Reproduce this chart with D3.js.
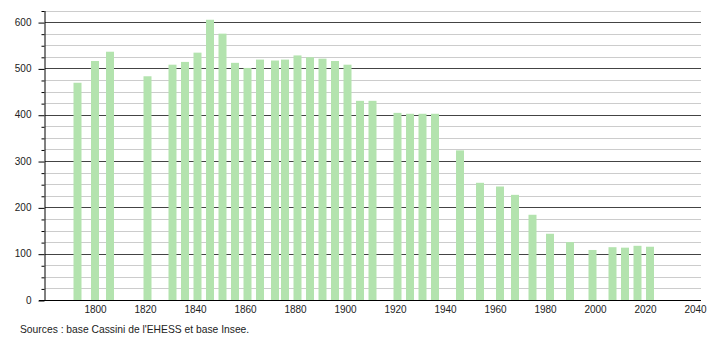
<!DOCTYPE html>
<html>
<head>
<meta charset="utf-8">
<script src="https://cdn.jsdelivr.net/npm/d3@7"></script>
<style>
  body { margin: 0; background: #fff; }
  svg text { font-family: "Liberation Sans", Arial, sans-serif; font-size: 10px; fill: #222; }
</style>
</head>
<body>
<div id="chart"></div>
<script>
// census years and population
const years = [1793, 1800, 1806, 1821, 1831, 1836, 1841, 1846, 1851, 1856,
    1861, 1866, 1872, 1876, 1881, 1886, 1891, 1896, 1901, 1906,
    1911, 1921, 1926, 1931, 1936, 1946, 1954, 1962, 1968, 1975,
    1982, 1990, 1999, 2007, 2012, 2017, 2022];
const population = [469, 516, 536, 483, 508, 514, 534, 605, 575, 512,
    501, 519, 517, 519, 528, 524, 521, 516, 508, 430,
    430, 404, 402, 402, 402, 323, 253, 245, 227, 184,
    143, 125, 108, 114, 113, 117, 115];
const xTicks = [1800, 1820, 1840, 1860, 1880, 1900, 1920, 1940, 1960, 1980, 2000, 2020, 2040];
const yTicks = [0, 100, 200, 300, 400, 500, 600];
const sourceText = "Sources : base Cassini de l'EHESS et base Insee.";

const data = years.map((d, i) => ({year: d, value: population[i]}));

const win_width = 710, win_height = 340;

let svg = d3.select("#chart")
    .append("svg")
    .attr("width", win_width)
    .attr("height", win_height);

// scales
let x = d3.scaleLinear()
    .domain([1780, 2042.4])
    .range([45, 701]);
let y = d3.scaleLinear()
    .domain([0, 625])
    .range([300, 10.5]);

// minor gridlines every 25
let minor = d3.range(25, 626, 25).filter(d => d % 100 !== 0);
svg.append("g")
    .selectAll("line")
    .data(minor)
    .enter()
    .append("line")
    .attr("x1", 45).attr("x2", 701)
    .attr("y1", d => Math.round(y(d)) + 0.5)
    .attr("y2", d => Math.round(y(d)) + 0.5)
    .style("stroke", "#cccccc");

// major gridlines every 100
svg.append("g")
    .selectAll("line")
    .data(yTicks.slice(1))
    .enter()
    .append("line")
    .attr("x1", 45).attr("x2", 701)
    .attr("y1", d => Math.round(y(d)) + 0.5)
    .attr("y2", d => Math.round(y(d)) + 0.5)
    .style("stroke", "#444444");

// bars
svg.append("g")
    .selectAll("rect")
    .data(data)
    .enter()
    .append("rect")
    .attr("x", d => x(d.year) - 4)
    .attr("width", 8)
    .attr("y", d => y(d.value))
    .attr("height", d => y(0) - y(d.value))
    .style("fill", "#b3e3ae");

// y axis with minor ticks
let yAxisMinor = svg.append("g")
    .attr("transform", "translate(44.5,0)")
    .call(d3.axisLeft(y).tickValues(minor).tickSize(3).tickFormat(""));
yAxisMinor.select(".domain").remove();
yAxisMinor.selectAll("line").attr("transform", "translate(0,0.5)");

let yAxis = svg.append("g")
    .attr("transform", "translate(44.5,0)")
    .call(d3.axisLeft(y).tickValues(yTicks).tickSize(6).tickSizeOuter(0).tickPadding(7).tickFormat(d3.format("d")));
yAxis.select(".domain").attr("stroke", "#000");
yAxis.selectAll(".tick line").attr("stroke", "#000").attr("transform", "translate(0,0.5)");
yAxis.selectAll("text").style("font-size", "10px").style("font-family", "Liberation Sans, Arial, sans-serif").attr("fill", "#222");

// x axis
let xAxis = svg.append("g")
    .attr("transform", "translate(0,300.5)")
    .call(d3.axisBottom(x).tickValues(xTicks).tickSize(0).tickSizeOuter(0).tickPadding(5).tickFormat(d3.format("d")));
xAxis.select(".domain").attr("stroke", "#000").attr("d", "M39,0H701");
xAxis.selectAll("text").style("font-size", "10px").style("font-family", "Liberation Sans, Arial, sans-serif").attr("fill", "#222");

// source
svg.append("text")
    .attr("x", 20)
    .attr("y", 333)
    .style("font-size", "10.3px")
    .text(sourceText);
</script>
</body>
</html>
